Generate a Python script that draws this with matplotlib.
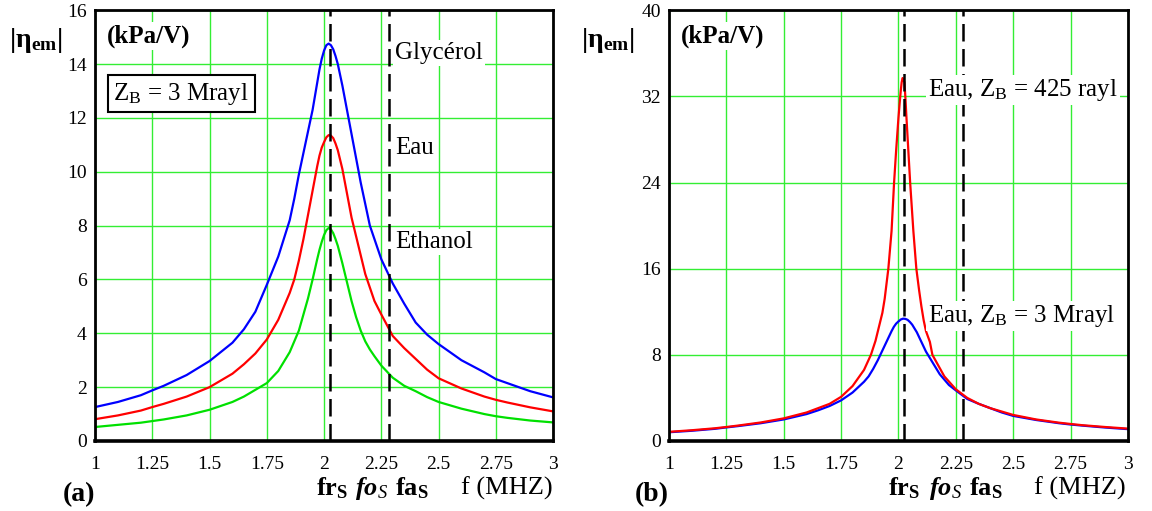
import matplotlib
matplotlib.use("Agg")
import matplotlib.pyplot as plt

plt.rcParams['font.family'] = 'serif'
plt.rcParams['font.serif'] = ['Liberation Serif', 'DejaVu Serif']
plt.rcParams['mathtext.fontset'] = 'custom'
plt.rcParams['mathtext.rm'] = 'Liberation Serif'
plt.rcParams['mathtext.it'] = 'Liberation Serif:italic'
plt.rcParams['mathtext.bf'] = 'Liberation Serif:bold'

# frequencies (MHz)
f_a = [1.0, 1.1, 1.2, 1.25, 1.3, 1.4, 1.5, 1.6, 1.65, 1.7, 1.75, 1.8, 1.85, 1.87,
       1.89, 1.91, 1.93, 1.95, 1.97, 1.98, 1.99, 2.0, 2.01, 2.02, 2.03, 2.04, 2.05,
       2.06, 2.08, 2.1, 2.12, 2.14, 2.16, 2.18, 2.2, 2.22, 2.25, 2.3, 2.35, 2.4,
       2.45, 2.5, 2.6, 2.7, 2.75, 2.8, 2.9, 3.0]

# |eta_em| (kPa/V), ZB = 3 Mrayl
glycerol = [1.26, 1.45, 1.70, 1.88, 2.05, 2.45, 2.97, 3.65, 4.15, 4.8, 5.8, 6.85, 8.2, 9.0,
            9.9, 10.7, 11.5, 12.3, 13.3, 13.8, 14.2, 14.5, 14.7, 14.76, 14.7, 14.55, 14.3,
            14.0, 13.2, 12.3, 11.4, 10.5, 9.6, 8.8, 8.0, 7.5, 6.75, 5.85, 5.1, 4.4,
            3.95, 3.6, 3.0, 2.55, 2.3, 2.15, 1.85, 1.62]
eau = [0.81, 0.95, 1.13, 1.26, 1.38, 1.65, 2.0, 2.5, 2.85, 3.25, 3.77, 4.5, 5.5, 6.0,
       6.7, 7.5, 8.4, 9.3, 10.2, 10.6, 10.9, 11.1, 11.28, 11.36, 11.34, 11.25, 11.05,
       10.8, 10.1, 9.2, 8.3, 7.6, 6.9, 6.2, 5.7, 5.2, 4.7, 3.9, 3.45, 3.05,
       2.65, 2.33, 1.95, 1.65, 1.53, 1.43, 1.25, 1.10]
ethanol = [0.52, 0.60, 0.68, 0.74, 0.80, 0.95, 1.16, 1.45, 1.65, 1.9, 2.15, 2.6, 3.3, 3.7,
           4.1, 4.7, 5.3, 6.0, 6.75, 7.1, 7.4, 7.65, 7.83, 7.91, 7.86, 7.72, 7.5,
           7.25, 6.6, 5.9, 5.2, 4.6, 4.1, 3.7, 3.4, 3.15, 2.8, 2.35, 2.05, 1.85,
           1.63, 1.45, 1.2, 1.0, 0.92, 0.86, 0.76, 0.69]

# eau, ZB = 425 rayl
f_b = [1.0, 1.1, 1.2, 1.25, 1.3, 1.4, 1.5, 1.6, 1.7, 1.75, 1.8, 1.85, 1.88, 1.9,
       1.93, 1.94, 1.956, 1.97, 1.981, 1.99, 2.0, 2.005, 2.01, 2.014, 2.018, 2.022,
       2.026, 2.03, 2.035, 2.043, 2.051, 2.065, 2.078, 2.09, 2.1, 2.11, 2.12, 2.137,
       2.148, 2.2, 2.25, 2.3, 2.35, 2.4, 2.5, 2.6, 2.7, 2.75, 2.8, 2.9, 3.0]
eau_425 = [0.85, 1.0, 1.18, 1.3, 1.43, 1.72, 2.1, 2.65, 3.45, 4.1, 5.1, 6.6, 8.0, 9.3,
           11.9, 13.2, 16.0, 19.5, 24.0, 27.0, 30.0, 31.3, 32.5, 33.3, 33.7, 33.6,
           33.3, 32.0, 30.0, 27.0, 24.0, 19.5, 16.0, 14.0, 12.5, 11.2, 10.2, 9.2,
           8.0, 6.0, 4.8, 4.0, 3.45, 3.05, 2.42, 2.0, 1.7, 1.58, 1.47, 1.3, 1.15]

fr_s = 2.025
fa_s = 2.282

xticks = [1, 1.25, 1.5, 1.75, 2, 2.25, 2.5, 2.75, 3]
xlabels = ['1', '1.25', '1.5', '1.75', '2', '2.25', '2.5', '2.75', '3']

fig = plt.figure(figsize=(11.52, 5.11), dpi=100)
ax1 = fig.add_axes([0.0825, 0.137, 0.3976, 0.843])
ax2 = fig.add_axes([0.5807, 0.137, 0.3984, 0.843])

def style(ax, ymax, ystep):
    ax.set_xlim(1, 3)
    ax.set_ylim(0, ymax)
    ax.set_xticks(xticks)
    ax.set_xticklabels(xlabels)
    ax.set_yticks(range(0, ymax + 1, ystep))
    ax.grid(color='#33ee33', lw=1.0)
    ax.set_axisbelow(True)
    ax.tick_params(length=0, labelsize=14)
    ax.tick_params(axis='x', pad=11)
    ax.tick_params(axis='y', pad=6)
    for s in ax.spines.values():
        s.set_linewidth(2)
        s.set_zorder(5)
    ax.spines['bottom'].set_linewidth(2.6)
    for xv in (fr_s, fa_s):
        ax.axvline(xv, color='black', lw=1.8, dashes=(7, 3), zorder=3)

style(ax1, 16, 2)
ax1.plot(f_a, glycerol, color='#0000ff', lw=1.6)
ax1.plot(f_a, eau, color='#ff0000', lw=1.6)
ax1.plot(f_a, ethanol, color='#00e000', lw=1.6)

wbox = dict(facecolor='white', edgecolor='none', pad=1.5)
ax1.text(2.31, 14.4, 'Glycérol', fontsize=18, va='center', bbox=wbox, zorder=4)
ax1.text(2.31, 10.9, 'Eau', fontsize=18, va='center', bbox=wbox, zorder=4)
ax1.text(2.31, 7.4, 'Ethanol', fontsize=18, va='center', bbox=wbox, zorder=4)
ax1.text(1.05, 15.05, '(kPa/V)', fontsize=18, fontweight='bold', va='center',
         bbox=wbox, zorder=4)
ax1.text(1.08, 12.9, r'Z$_\mathrm{B}$ = 3 Mrayl', fontsize=18, va='center', zorder=4,
         bbox=dict(facecolor='white', edgecolor='black', lw=1.5, pad=4))

style(ax2, 40, 8)
ax2.plot(f_a, eau, color='#0000ff', lw=1.6)
ax2.plot(f_b, eau_425, color='#ff0000', lw=1.6)
ax2.text(1.05, 37.6, '(kPa/V)', fontsize=18, fontweight='bold', va='center',
         bbox=wbox, zorder=4)
ax2.text(2.128, 32.6, r'Eau, Z$_\mathrm{B}$ = 425 rayl', fontsize=18, va='center',
         bbox=wbox, zorder=4)
ax2.text(2.128, 11.6, r'Eau, Z$_\mathrm{B}$ = 3 Mrayl', fontsize=18, va='center',
         bbox=wbox, zorder=4)

# labels outside the axes
for x0, tag in ((0.0, '(a)'), (0.4965, '(b)')):
    fig.text(0.031 + x0, 0.92, r'|η$_\mathbf{em}$|', fontsize=20, fontweight='bold',
             ha='center', va='center')
    fig.text(0.0547 + x0, 0.033, tag, fontsize=20, fontweight='bold', va='center')

for xs in ((0.2743, 0.308, 0.343, 0.400), (0.771, 0.806, 0.841, 0.898)):
    fig.text(xs[0], 0.045, r'fr$_\mathbf{S}$', fontsize=19, fontweight='bold', va='center')
    fig.text(xs[1], 0.045, r'fo$_\mathit{S}$', fontsize=19, fontweight='bold',
             style='italic', va='center')
    fig.text(xs[2], 0.045, r'fa$_\mathbf{S}$', fontsize=19, fontweight='bold', va='center')
    fig.text(xs[3], 0.045, 'f (MHZ)', fontsize=19, va='center')

fig.savefig('out.png', dpi=100)
